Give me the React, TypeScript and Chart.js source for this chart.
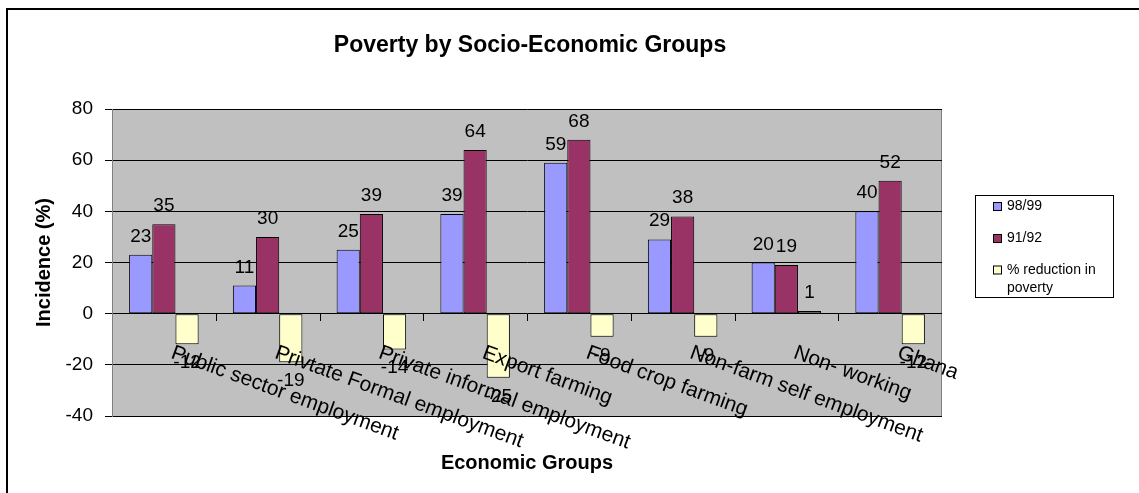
import React, { useEffect, useRef } from "react";
import { Chart, registerables } from "chart.js";

Chart.register(...registerables);

const categories = [
  "Public sector employment",
  "Privtate Formal employment",
  "Private informal employment",
  "Export farming",
  "Food crop farming",
  "Non-farm self employment",
  "Non- working",
  "Ghana",
];
const series9899 = [23, 11, 25, 39, 59, 29, 20, 40];
const series9192 = [35, 30, 39, 64, 68, 38, 19, 52];
const reduction = [-12, -19, -14, -25, -9, -9, 1, -12];
const seriesNames = ["98/99", "91/92", "% reduction in poverty"];
const legendLines = [["98/99"], ["91/92"], ["% reduction in", "poverty"]];
const seriesColors = ["#9999FF", "#993366", "#FFFFCC"];
const yMin = -40;
const yMax = 80;
const yStep = 20;
const titleText = "Poverty by Socio-Economic Groups";
const xTitleText = "Economic Groups";
const yTitleText = "Incidence (%)";

const FONT = "'Liberation Sans', Arial, sans-serif";
const LABEL_ANGLE = (20 * Math.PI) / 180;

const decor = {
  id: "decor",
  beforeDraw(chart: any) {
    const { ctx, chartArea: a } = chart;
    ctx.save();
    ctx.fillStyle = "#ffffff";
    ctx.fillRect(0, 0, chart.width, chart.height);
    ctx.fillStyle = "#C0C0C0";
    ctx.fillRect(a.left, a.top, a.right - a.left, a.bottom - a.top);
    ctx.strokeStyle = "#808080";
    ctx.lineWidth = 1;
    ctx.strokeRect(a.left + 0.5, a.top + 0.5, a.right - a.left - 1, a.bottom - a.top);
    // outer frame
    ctx.fillStyle = "#000";
    ctx.fillRect(6, 8, chart.width - 6, 2);
    ctx.fillRect(6, 8, 2, chart.height - 8);
    ctx.restore();
  },
  afterDatasetsDraw(chart: any) {
    const { ctx } = chart;
    const xs = chart.scales.x;
    const ys = chart.scales.y;
    const y0 = ys.getPixelForValue(0);
    ctx.save();

    // category tick marks below zero line
    ctx.strokeStyle = "#000";
    ctx.lineWidth = 1;
    ctx.beginPath();
    for (let i = 0; i < categories.length - 1; i++) {
      const x = Math.round((xs.getPixelForValue(i) + xs.getPixelForValue(i + 1)) / 2) + 0.5;
      ctx.moveTo(x, Math.round(y0));
      ctx.lineTo(x, Math.round(y0) + 7);
    }
    ctx.stroke();

    // category labels (rotated, descending)
    ctx.fillStyle = "#000";
    ctx.font = `21px ${FONT}`;
    ctx.textAlign = "left";
    ctx.textBaseline = "alphabetic";
    categories.forEach((c, i) => {
      const cx = xs.getPixelForValue(i);
      ctx.save();
      ctx.translate(cx + 6, y0 + 44);
      ctx.rotate(LABEL_ANGLE);
      ctx.fillText(c, 0, 0);
      ctx.restore();
    });

    // data labels
    ctx.font = `19px ${FONT}`;
    ctx.textAlign = "center";
    ctx.textBaseline = "alphabetic";
    chart.data.datasets.forEach((ds: any, d: number) => {
      const meta = chart.getDatasetMeta(d);
      meta.data.forEach((el: any, i: number) => {
        const v = ds.data[i];
        const { x, y } = el.getProps(["x", "y"], true);
        if (v >= 0) ctx.fillText(String(v), x, y - 13);
        else ctx.fillText(String(v), x, y + 24);
      });
    });

    // chart title
    ctx.font = `bold 23px ${FONT}`;
    ctx.fillText(titleText, 530, 52);

    // x title
    ctx.font = `bold 20px ${FONT}`;
    ctx.fillText(xTitleText, (chart.chartArea.left + chart.chartArea.right) / 2, 469);

    // y title
    ctx.save();
    ctx.translate(50, (chart.chartArea.top + chart.chartArea.bottom) / 2);
    ctx.rotate(-Math.PI / 2);
    ctx.fillText(yTitleText, 0, 0);
    ctx.restore();

    // legend
    ctx.strokeStyle = "#000";
    ctx.lineWidth = 1;
    ctx.strokeRect(975.5, 195.5, 138, 102);
    const itemY = [206.5, 238.5, 270];
    ctx.font = `14px ${FONT}`;
    ctx.textAlign = "left";
    ctx.textBaseline = "middle";
    legendLines.forEach((lines, k) => {
      ctx.fillStyle = seriesColors[k];
      ctx.fillRect(993.5, itemY[k] - 4, 8, 8);
      ctx.strokeStyle = "#000";
      ctx.strokeRect(993.5, itemY[k] - 4, 8, 8);
      ctx.fillStyle = "#000";
      lines.forEach((ln, j) => ctx.fillText(ln, 1007, itemY[k] + j * 18));
    });

    ctx.restore();
  },
};

export default function App() {
  const ref = useRef<HTMLCanvasElement | null>(null);
  useEffect(() => {
    document.body.style.margin = "0";
    const canvas = ref.current!;
    const chart = new Chart(canvas, {
      type: "bar",
      data: {
        labels: categories,
        datasets: [
          { label: seriesNames[0], data: series9899, backgroundColor: seriesColors[0] },
          { label: seriesNames[1], data: series9192, backgroundColor: seriesColors[1] },
          { label: seriesNames[2], data: reduction, backgroundColor: seriesColors[2] },
        ].map((d) => ({ ...d, borderColor: "#000", borderWidth: 1, borderSkipped: false })),
      },
      options: {
        responsive: false,
        animation: false,
        layout: { padding: { left: 0, top: 109, right: 197, bottom: 77 } },
        plugins: {
          legend: { display: false },
          title: { display: false },
          tooltip: { enabled: false },
        },
        datasets: { bar: { categoryPercentage: 0.67, barPercentage: 1 } },
        scales: {
          x: { display: false },
          y: {
            min: yMin,
            max: yMax,
            ticks: { stepSize: yStep, font: { family: FONT, size: 19 }, color: "#000", padding: 12 },
            grid: { color: "#000", tickLength: 7, drawTicks: true },
            border: { display: true, color: "#808080" },
            afterFit: (s: any) => {
              s.width = 112;
            },
          },
        },
      } as any,
      plugins: [decor],
    });
    return () => chart.destroy();
  }, []);
  return (
    <div style={{ width: 1139, height: 493 }}>
      <canvas ref={ref} width={1139} height={493} style={{ display: "block" }} />
    </div>
  );
}
